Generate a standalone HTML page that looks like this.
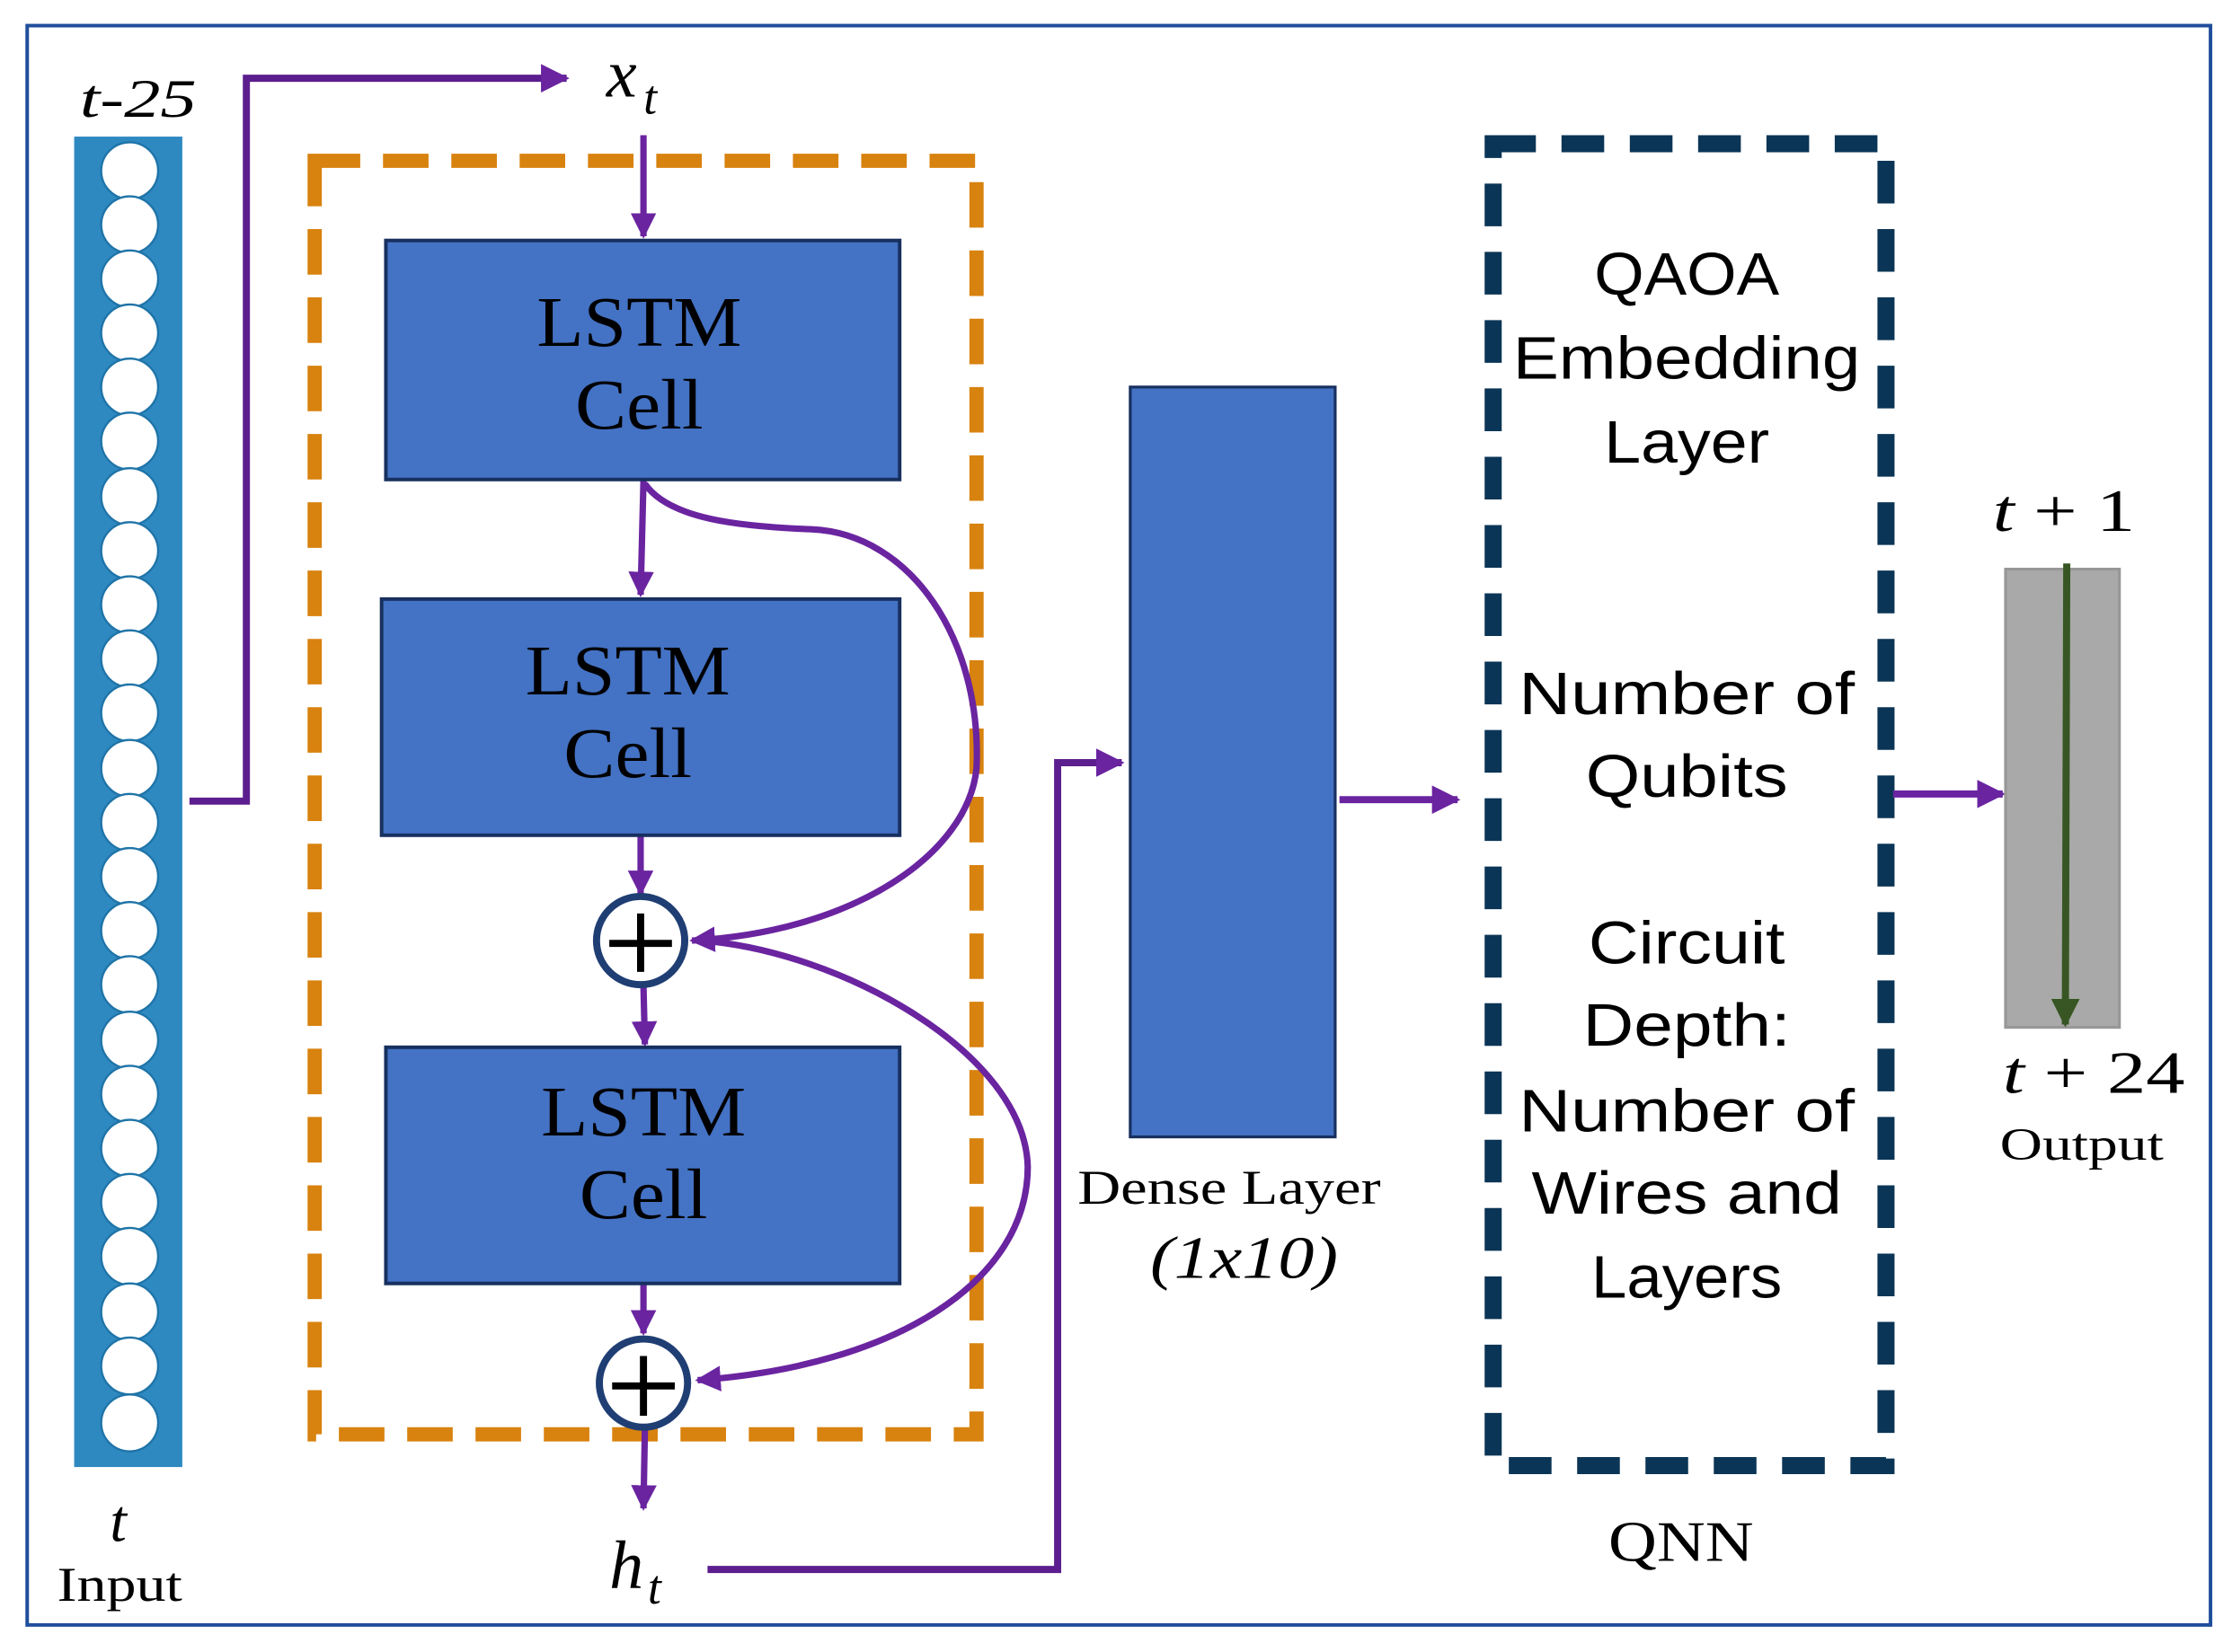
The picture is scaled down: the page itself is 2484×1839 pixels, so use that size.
<!DOCTYPE html>
<html><head><meta charset="utf-8"><style>
html,body{margin:0;padding:0;background:#fff;}
svg{display:block;}
.serif{font-family:"Liberation Serif",serif;}
.sans{font-family:"Liberation Sans",sans-serif;}
</style></head><body>
<svg width="2484" height="1839" viewBox="0 0 1568 1161" xmlns="http://www.w3.org/2000/svg">
<defs>
<marker id="ap" viewBox="0 0 10 10" refX="9" refY="5" markerWidth="4" markerHeight="4" orient="auto-start-reverse" markerUnits="strokeWidth">
<path d="M0,0 L10,5 L0,10 Z" fill="#6a24a0"/></marker>
<marker id="ag" viewBox="0 0 10 10" refX="9" refY="5" markerWidth="4" markerHeight="4" orient="auto" markerUnits="strokeWidth">
<path d="M0,0 L10,5 L0,10 Z" fill="#375623"/></marker>
</defs>
<rect x="0" y="0" width="1568" height="1161" fill="#fff"/>
<rect x="19" y="18" width="1534" height="1124" fill="none" stroke="#1f4e9c" stroke-width="2.5"/>

<rect x="52" y="96" width="76" height="935" fill="#2f89c1"/>
<g fill="#fff" stroke="#1f74a8" stroke-width="1.5">
<circle cx="91" cy="120" r="20"/><circle cx="91" cy="158" r="20"/><circle cx="91" cy="196" r="20"/><circle cx="91" cy="234" r="20"/>
<circle cx="91" cy="272" r="20"/><circle cx="91" cy="310" r="20"/><circle cx="91" cy="349" r="20"/><circle cx="91" cy="387" r="20"/>
<circle cx="91" cy="425" r="20"/><circle cx="91" cy="463" r="20"/><circle cx="91" cy="501" r="20"/><circle cx="91" cy="540" r="20"/>
<circle cx="91" cy="578" r="20"/><circle cx="91" cy="616" r="20"/><circle cx="91" cy="654" r="20"/><circle cx="91" cy="692" r="20"/>
<circle cx="91" cy="731" r="20"/><circle cx="91" cy="769" r="20"/><circle cx="91" cy="807" r="20"/><circle cx="91" cy="845" r="20"/>
<circle cx="91" cy="883" r="20"/><circle cx="91" cy="922" r="20"/><circle cx="91" cy="960" r="20"/><circle cx="91" cy="1000" r="20"/>
</g>
<text x="56" y="82" class="serif" font-size="38" font-style="italic" textLength="82" lengthAdjust="spacingAndGlyphs">t-25</text>
<text x="83" y="1083" class="serif" font-size="42" font-style="italic" text-anchor="middle">t</text>
<text x="40" y="1125" class="serif" font-size="34" textLength="88" lengthAdjust="spacingAndGlyphs">Input</text>

<polyline points="133,563 173,563 173,55 398,55" fill="none" stroke="#5c1e8e" stroke-width="5" marker-end="url(#ap)"/>
<text x="426" y="68" class="serif" font-size="48" font-style="italic">x</text>
<text x="452" y="80" class="serif" font-size="34" font-style="italic">t</text>

<rect x="221" y="113" width="465" height="895" fill="none" stroke="#d8820f" stroke-width="10" stroke-dasharray="32,16"/>

<g stroke="#6a24a0" stroke-width="4.5" fill="none">
<line x1="452" y1="95" x2="452" y2="166" marker-end="url(#ap)"/>
<line x1="452" y1="338" x2="450" y2="418" marker-end="url(#ap)"/>
<line x1="450" y1="588" x2="450" y2="628" marker-end="url(#ap)"/>
<line x1="452" y1="693" x2="453" y2="734" marker-end="url(#ap)"/>
<line x1="452" y1="903" x2="452" y2="937" marker-end="url(#ap)"/>
<line x1="453" y1="1004" x2="452" y2="1060" marker-end="url(#ap)"/>
<path d="M453,340 C470,365 520,370 570,372 C640,375 690,450 686,540 C680,600 600,655 486,661" marker-end="url(#ap)"/>
<path d="M492,661 C590,668 720,740 722,820 C722,900 630,960 490,970" marker-end="url(#ap)"/>
</g>

<g fill="#4472c4" stroke="#17305f" stroke-width="2.5">
<rect x="271" y="169" width="361" height="168"/>
<rect x="268" y="421" width="364" height="166"/>
<rect x="271" y="736" width="361" height="166"/>
</g>
<g class="serif" font-size="50" text-anchor="middle" fill="#000" lengthAdjust="spacingAndGlyphs">
<text x="449" y="243" textLength="144" lengthAdjust="spacingAndGlyphs">LSTM</text><text x="449" y="301" textLength="90" lengthAdjust="spacingAndGlyphs">Cell</text>
<text x="441" y="488" textLength="144" lengthAdjust="spacingAndGlyphs">LSTM</text><text x="441" y="546" textLength="90" lengthAdjust="spacingAndGlyphs">Cell</text>
<text x="452" y="798" textLength="144" lengthAdjust="spacingAndGlyphs">LSTM</text><text x="452" y="856" textLength="90" lengthAdjust="spacingAndGlyphs">Cell</text>
</g>

<g stroke="#1f3e73" stroke-width="5" fill="#fff">
<ellipse cx="450" cy="661" rx="31" ry="31"/>
<ellipse cx="452" cy="972" rx="31" ry="31"/>
</g>
<g stroke="#000" stroke-width="5">
<line x1="428" y1="663" x2="472" y2="663"/><line x1="450" y1="642" x2="450" y2="683"/>
<line x1="430" y1="974" x2="474" y2="974"/><line x1="452" y1="953" x2="452" y2="995"/>
</g>
<text x="428" y="1116" class="serif" font-size="48" font-style="italic">h</text>
<text x="455" y="1127" class="serif" font-size="34" font-style="italic">t</text>

<polyline points="497,1103 743,1103 743,536 788,536" fill="none" stroke="#5c1e8e" stroke-width="5" marker-end="url(#ap)"/>

<rect x="794" y="272" width="144" height="527" fill="#4472c4" stroke="#17305f" stroke-width="2"/>
<text x="757" y="846" class="serif" font-size="34" textLength="213" lengthAdjust="spacingAndGlyphs">Dense Layer</text>
<text x="808" y="898" class="serif" font-size="42" font-style="italic" textLength="132" lengthAdjust="spacingAndGlyphs">(1x10)</text>
<line x1="941" y1="562" x2="1024" y2="562" stroke="#6a24a0" stroke-width="5" marker-end="url(#ap)"/>

<rect x="1049" y="101" width="276" height="929" fill="none" stroke="#0b3556" stroke-width="12" stroke-dasharray="30,18"/>
<g class="sans" font-size="42" text-anchor="middle" fill="#000">
<text x="1185" y="207" textLength="130" lengthAdjust="spacingAndGlyphs">QAOA</text>
<text x="1185" y="266" textLength="244" lengthAdjust="spacingAndGlyphs">Embedding</text>
<text x="1185" y="325" textLength="116" lengthAdjust="spacingAndGlyphs">Layer</text>
<text x="1185" y="502" textLength="236" lengthAdjust="spacingAndGlyphs">Number of</text>
<text x="1185" y="560" textLength="142" lengthAdjust="spacingAndGlyphs">Qubits</text>
<text x="1185" y="677" textLength="138" lengthAdjust="spacingAndGlyphs">Circuit</text>
<text x="1185" y="735" textLength="146" lengthAdjust="spacingAndGlyphs">Depth:</text>
<text x="1185" y="795" textLength="236" lengthAdjust="spacingAndGlyphs">Number of</text>
<text x="1185" y="853" textLength="218" lengthAdjust="spacingAndGlyphs">Wires and</text>
<text x="1185" y="912" textLength="134" lengthAdjust="spacingAndGlyphs">Layers</text>
</g>
<text x="1130" y="1097" class="serif" font-size="40" textLength="102" lengthAdjust="spacingAndGlyphs">QNN</text>

<line x1="1330" y1="558" x2="1407" y2="558" stroke="#6a24a0" stroke-width="5" marker-end="url(#ap)"/>

<rect x="1409" y="400" width="80" height="322" fill="#a9a9a9" stroke="#979797" stroke-width="2"/>
<line x1="1452" y1="396" x2="1451" y2="720" stroke="#375623" stroke-width="5" marker-end="url(#ag)"/>
<text x="1400" y="373" class="serif" font-size="42" font-style="italic" textLength="100" lengthAdjust="spacingAndGlyphs">t <tspan font-style="normal">+ 1</tspan></text>
<text x="1407" y="768" class="serif" font-size="42" font-style="italic" textLength="128" lengthAdjust="spacingAndGlyphs">t <tspan font-style="normal">+ 24</tspan></text>
<text x="1405" y="815" class="serif" font-size="32" textLength="115" lengthAdjust="spacingAndGlyphs">Output</text>
</svg>
</body></html>
